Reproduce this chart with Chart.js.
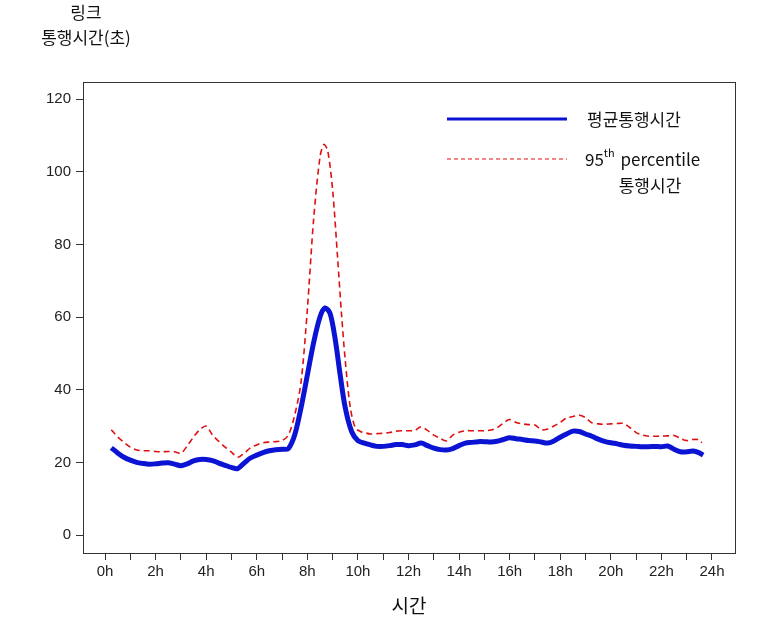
<!DOCTYPE html>
<html>
<head>
<meta charset="utf-8">
<script src="https://cdn.jsdelivr.net/npm/chart.js@4.4.1/dist/chart.umd.min.js"></script>
<style>
  html, body { margin: 0; padding: 0; background: #fff; }
  #wrap { position: relative; width: 764px; height: 625px; }
</style>
</head>
<body>
<div id="wrap"><canvas id="c" width="764" height="625"></canvas></div>
<script>
// ---- Data ----
const meanHours = [0.25,0.5,0.75,1.0,1.25,1.5,1.75,2.0,2.25,2.5,2.75,3.0,3.25,3.5,3.75,4.0,4.25,4.5,4.75,5.0,5.25,5.5,5.75,6.0,6.25,6.5,6.75,7.0,7.25,7.5,7.75,8.0,8.25,8.5,8.7,8.9,9.1,9.3,9.5,9.75,10.0,10.25,10.5,10.75,11.0,11.25,11.5,11.75,12.0,12.25,12.5,12.75,13.0,13.25,13.5,13.75,14.0,14.25,14.5,14.75,15.0,15.25,15.5,15.75,16.0,16.25,16.5,16.75,17.0,17.25,17.5,17.75,18.0,18.25,18.5,18.75,19.0,19.25,19.5,19.75,20.0,20.25,20.5,20.75,21.0,21.25,21.5,21.75,22.0,22.25,22.5,22.75,23.0,23.25,23.5,23.65];
const meanTravelTime = [24.0,22.6,21.4,20.6,20.0,19.7,19.5,19.6,19.8,19.9,19.5,19.1,19.6,20.4,20.8,20.8,20.5,19.8,19.2,18.6,18.3,19.8,21.2,22.0,22.7,23.2,23.5,23.6,23.8,27.5,35.0,44.0,53.0,60.0,62.5,61.0,54.0,44.0,35.0,28.5,26.0,25.3,24.8,24.4,24.4,24.6,24.9,24.9,24.6,24.8,25.3,24.6,23.9,23.5,23.4,23.8,24.6,25.3,25.5,25.7,25.7,25.6,25.8,26.3,26.8,26.5,26.3,26.0,25.9,25.6,25.3,25.9,26.9,27.8,28.6,28.5,27.8,27.2,26.4,25.8,25.4,25.1,24.7,24.5,24.4,24.3,24.3,24.4,24.3,24.5,23.6,22.9,22.9,23.1,22.6,22.0];

const p95Hours = [0.25,0.5,0.75,1.0,1.25,1.5,1.75,2.0,2.25,2.5,2.75,3.0,3.25,3.5,3.75,4.0,4.25,4.5,4.75,5.0,5.25,5.5,5.75,6.0,6.25,6.5,6.75,7.0,7.25,7.5,7.75,8.0,8.25,8.5,8.65,8.8,9.0,9.2,9.35,9.5,9.7,9.9,10.1,10.25,10.5,10.75,11.0,11.25,11.5,11.75,12.0,12.25,12.5,12.75,13.0,13.25,13.5,13.75,14.0,14.25,14.5,14.75,15.0,15.25,15.5,15.75,16.0,16.25,16.5,16.75,17.0,17.25,17.5,17.75,18.0,18.25,18.5,18.75,19.0,19.25,19.5,19.75,20.0,20.25,20.5,20.75,21.0,21.25,21.5,21.75,22.0,22.25,22.5,22.75,23.0,23.25,23.5,23.6];
const p95TravelTime = [29.0,27.0,25.5,24.2,23.4,23.2,23.2,23.0,22.9,23.0,22.9,22.5,24.5,27.0,29.0,30.0,27.5,25.8,24.2,22.8,21.4,22.5,24.0,24.8,25.4,25.6,25.7,26.0,27.5,33.0,42.0,62.0,87.0,104.0,107.5,106.0,95.0,76.0,61.0,48.0,35.0,29.5,28.5,28.2,27.8,27.9,28.0,28.2,28.6,28.7,28.7,28.8,29.8,28.8,27.5,26.6,25.9,27.5,28.3,28.7,28.7,28.7,28.7,28.9,29.5,30.8,31.8,31.0,30.6,30.4,30.3,29.0,29.2,30.0,31.0,32.2,32.6,33.0,32.3,30.9,30.6,30.5,30.6,30.7,30.7,29.6,28.2,27.5,27.2,27.2,27.2,27.3,27.4,26.6,26.0,26.3,26.2,25.4];

const xTickHours = [0,1,2,3,4,5,6,7,8,9,10,11,12,13,14,15,16,17,18,19,20,21,22,23,24];
const yTickValues = [0,20,40,60,80,100,120];
const seriesNames = ['평균통행시간', '95th percentile 통행시간'];
const yAxisTitle = ['링크', '통행시간(초)'];
const xAxisTitle = '시간';

// ---- Chart ----
const tickFont = { family: "'Liberation Sans', Arial, sans-serif", size: 15 };
const krFont = "'Noto Sans CJK KR', 'Noto Sans', sans-serif";

const decorPlugin = {
  id: 'decor',
  afterDraw(chart) {
    const ctx = chart.ctx;
    const a = chart.chartArea;
    ctx.save();
    // plot frame
    ctx.strokeStyle = '#333';
    ctx.lineWidth = 1;
    ctx.strokeRect(Math.round(a.left) + 0.5, Math.round(a.top) + 0.5, Math.round(a.right - a.left), Math.round(a.bottom - a.top));

    // y axis title (two lines)
    ctx.fillStyle = '#111';
    ctx.textAlign = 'center';
    ctx.textBaseline = 'middle';
    ctx.font = "17px " + krFont;
    ctx.fillText(yAxisTitle[0], 86, 13);
    ctx.fillText(yAxisTitle[1], 86, 38);

    // x axis title
    ctx.font = "19px " + krFont;
    ctx.fillText(xAxisTitle, (a.left + a.right) / 2, 606);

    // legend
    const ds0 = chart.data.datasets[0], ds1 = chart.data.datasets[1];
    ctx.beginPath();
    ctx.strokeStyle = ds0.borderColor;
    ctx.lineWidth = 3;
    ctx.moveTo(447, 119); ctx.lineTo(567, 119);
    ctx.stroke();

    ctx.beginPath();
    ctx.strokeStyle = ds1.borderColor;
    ctx.lineWidth = 1;
    ctx.setLineDash([4, 3]);
    ctx.moveTo(447, 159); ctx.lineTo(567, 159);
    ctx.stroke();
    ctx.setLineDash([]);

    ctx.fillStyle = '#111';
    ctx.textAlign = 'left';
    ctx.font = "17px " + krFont;
    ctx.fillText(seriesNames[0], 587, 120);

    // "95th percentile" with superscript
    const parts = seriesNames[1].split(' ');
    const base = parts[0].replace('th', '');
    ctx.font = "17px " + krFont;
    let x = 585;
    ctx.fillText(base, x, 160);
    x += ctx.measureText(base).width;
    ctx.font = "11px " + krFont;
    ctx.fillText('th', x, 153);
    x += ctx.measureText('th').width;
    ctx.font = "17px " + krFont;
    ctx.fillText(' ' + parts[1], x + 2, 160);
    ctx.textAlign = 'center';
    ctx.fillText(parts[2], 650, 186);
    ctx.restore();
  }
};

new Chart(document.getElementById('c'), {
  type: 'line',
  data: {
    datasets: [
      {
        label: seriesNames[0],
        data: meanHours.map((h, i) => ({ x: h, y: meanTravelTime[i] })),
        borderColor: '#0a14d2',
        borderWidth: 5,
        pointRadius: 0,
        tension: 0.3,
        fill: false,
        order: 1
      },
      {
        label: seriesNames[1],
        data: p95Hours.map((h, i) => ({ x: h, y: p95TravelTime[i] })),
        borderColor: '#e01010',
        borderWidth: 1.6,
        borderDash: [6, 4],
        pointRadius: 0,
        tension: 0.3,
        fill: false,
        order: 2
      }
    ]
  },
  options: {
    responsive: false,
    animation: false,
    events: [],
    layout: { padding: { left: 0, top: 82, right: 29, bottom: 0 } },
    plugins: { legend: { display: false }, tooltip: { enabled: false }, title: { display: false } },
    scales: {
      x: {
        type: 'linear',
        min: -0.87,
        max: 24.91,
        afterBuildTicks(scale) { scale.ticks = xTickHours.map(v => ({ value: v })); },
        afterFit(scale) { scale.height = 72; },
        grid: { display: true, drawOnChartArea: false, drawTicks: true, tickLength: 7, color: '#333', tickColor: '#333' },
        border: { display: false },
        ticks: {
          autoSkip: false,
          maxRotation: 0,
          padding: 3,
          color: '#222',
          font: tickFont,
          callback: (v) => (v % 2 === 0 ? v + 'h' : '')
        }
      },
      y: {
        min: -4.95,
        max: 124.7,
        afterBuildTicks(scale) { scale.ticks = yTickValues.map(v => ({ value: v })); },
        afterFit(scale) { scale.width = 83; },
        grid: { display: true, drawOnChartArea: false, drawTicks: true, tickLength: 7, color: '#333', tickColor: '#333' },
        border: { display: false },
        ticks: { padding: 5, color: '#222', font: tickFont }
      }
    }
  },
  plugins: [decorPlugin]
});
</script>
</body>
</html>
